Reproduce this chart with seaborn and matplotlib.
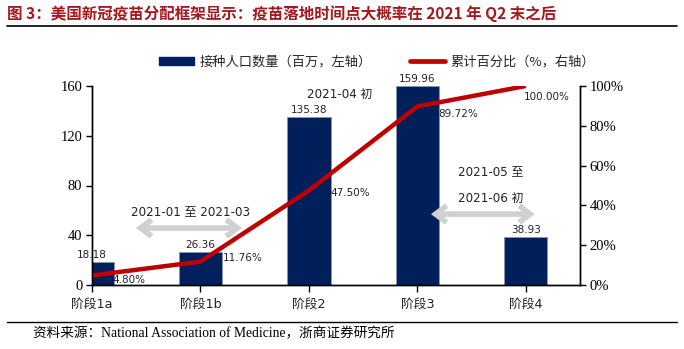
import numpy as np
import pandas as pd
import matplotlib
matplotlib.use("Agg")
import matplotlib.pyplot as plt
import seaborn as sns
from matplotlib.patches import FancyArrowPatch
from matplotlib.lines import Line2D
from matplotlib.patches import Patch

# ---- data ----
stages = ["阶段1a", "阶段1b", "阶段2", "阶段3", "阶段4"]
people = [18.18, 26.36, 135.38, 159.96, 38.93]          # 百万, left axis
cum_pct = [4.80, 11.76, 47.50, 89.72, 100.00]          # %, right axis
left_ticks = [0, 40, 80, 120, 160]
right_ticks = [0, 20, 40, 60, 80, 100]

NAVY = "#001F5B"
RED = "#C00000"
GRAY = "#D0D0D0"
TITLE_RED = "#A3191E"

sns.set_theme(style="white")
plt.rcParams["font.family"] = ["DejaVu Sans", "Noto Sans CJK SC"]
plt.rcParams["axes.unicode_minus"] = False

fig = plt.figure(figsize=(6.84, 3.49), dpi=100)
W, H = 684, 349
ax = fig.add_axes([92 / W, 1 - 285 / H, (580 - 92) / W, (285 - 86) / H])

df = pd.DataFrame({"stage": stages, "people": people, "pct": cum_pct,
                   "pos": np.arange(len(stages))})

sns.barplot(data=df, x="stage", y="people", color=NAVY, width=0.4,
            saturation=1, ax=ax, edgecolor="#8a94b0", linewidth=0.6)
ax.set_xlim(0, 4.5)
ax.set_ylim(0, 160)
ax.set_yticks(left_ticks)
ax.set_xlabel("")
ax.set_ylabel("")

ax2 = ax.twinx()
sns.lineplot(data=df, x="pos", y="pct", color=RED, linewidth=3.2, ax=ax2,
             solid_capstyle="butt")
ax2.set_ylim(0, 100)
ax2.set_xlim(0, 4.5)
ax2.set_yticks(right_ticks)
ax2.set_yticklabels([f"{t}%" for t in right_ticks])
ax2.set_xlabel("")
ax2.set_ylabel("")

serif = ["Liberation Serif", "Noto Sans CJK SC"]
for a in (ax, ax2):
    a.spines["top"].set_visible(False)
    for s in ("left", "right", "bottom"):
        a.spines[s].set_color("black")
        a.spines[s].set_linewidth(1.0)
ax.tick_params(axis="y", which="both", left=True, direction="out", length=4,
               width=1, colors="black", labelsize=10.5, pad=3)
ax.tick_params(axis="x", bottom=True, direction="out", length=5, width=1,
               colors="black", labelsize=9.2, pad=4)
ax2.tick_params(axis="y", right=True, direction="out", length=4, width=1,
                colors="black", labelsize=10.5, pad=3)
for lab in ax.get_yticklabels() + ax2.get_yticklabels():
    lab.set_family(serif)
for lab in ax.get_xticklabels():
    lab.set_family(["DejaVu Sans", "Noto Sans CJK SC"])
    lab.set_color("#222222")

# bar value labels
for i, v in enumerate(people):
    ax.annotate(f"{v:.2f}", (i, v), xytext=(0, 2), textcoords="offset pixels",
                ha="center", va="bottom", fontsize=7.5, color="#222222")

# line value labels
offsets = [(20, -5), (22, 4), (22, -3), (21, -8), (-2, -11)]
for i, (v, off) in enumerate(zip(cum_pct, offsets)):
    ax2.annotate(f"{v:.2f}%", (i, v), xytext=off, textcoords="offset pixels",
                 ha="left", va="center", fontsize=7.5, color="#222222")

# annotations
txt_kw = dict(ha="center", va="center", fontsize=8.6, color="#222222",
              family=["DejaVu Sans", "Noto Sans CJK SC"])
ax.text(2.28, 153.6, "2021-04 初", **txt_kw)
ax.text(0.907, 58.7, "2021-01 至 2021-03", **txt_kw)
ax.text(3.68, 90.9, "2021-05 至", **txt_kw)
ax.text(3.68, 70.0, "2021-06 初", **txt_kw)

for (x0, x1, y) in [(0.38, 1.41, 45.8), (3.10, 4.11, 57.0)]:
    arr = FancyArrowPatch((x0, y), (x1, y),
                          arrowstyle="<->,head_length=8,head_width=6",
                          color=GRAY, lw=4, mutation_scale=1,
                          zorder=1, joinstyle="miter", capstyle="butt")
    ax.add_patch(arr)

# legend
handles = [Patch(facecolor=NAVY, edgecolor=NAVY),
           Line2D([0], [0], color=RED, lw=3.4)]
labels = ["接种人口数量（百万，左轴）", "累计百分比（%，右轴）"]
fig.legend(handles, labels, loc="center", bbox_to_anchor=(377 / W, 1 - 62 / H),
           ncol=2, frameon=False, handlelength=2.65, handleheight=0.55,
           columnspacing=2.9, handletextpad=0.4,
           prop={"family": ["Noto Sans CJK SC"], "size": 9.5})

# title and rules
fig.text(7 / W, 1 - 14 / H, "图 3：美国新冠疫苗分配框架显示：疫苗落地时间点大概率在 2021 年 Q2 末之后",
         ha="left", va="center", fontsize=11.2, fontweight="bold", color=TITLE_RED,
         family=["Noto Sans CJK SC"])
fig.add_artist(Line2D([7 / W, 677 / W], [1 - 26 / H, 1 - 26 / H], color="black", lw=1.2))
fig.add_artist(Line2D([7 / W, 677 / W], [1 - 322 / H, 1 - 322 / H], color="black", lw=1.0))
fig.text(33 / W, 1 - 334 / H, "资料来源：National Association of Medicine，浙商证券研究所",
         ha="left", va="center", fontsize=9.8, color="black", family=serif)

fig.savefig("out.png", dpi=100)
